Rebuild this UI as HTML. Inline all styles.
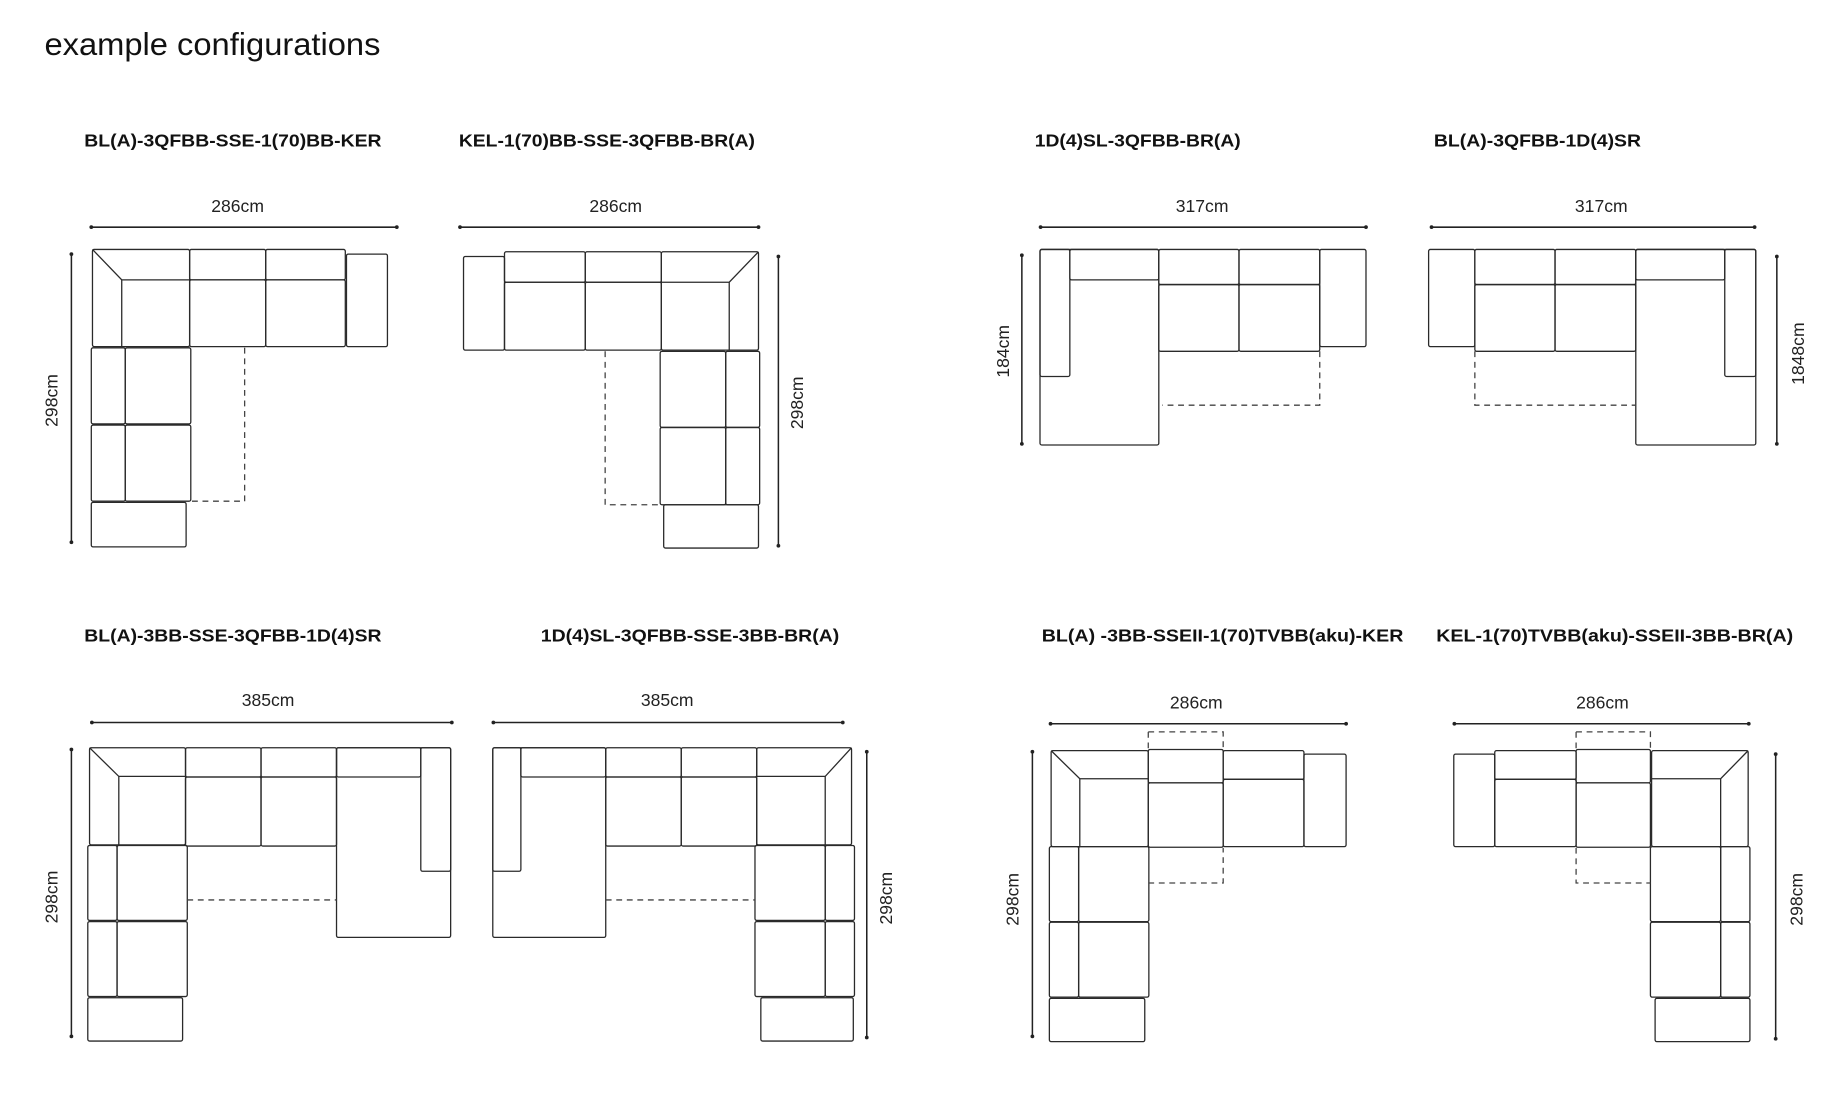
<!DOCTYPE html>
<html><head><meta charset="utf-8"><style>
html,body{margin:0;padding:0;background:#fff;}
svg{display:block;}
.s{fill:none;stroke:#2a2a2a;stroke-width:1.1;}
.d{fill:none;stroke:#444;stroke-width:1.1;stroke-dasharray:5,4;}
.t{font-family:"Liberation Sans",sans-serif;font-weight:bold;font-size:15px;fill:#111;}
.m{font-family:"Liberation Sans",sans-serif;font-size:15px;fill:#222;}
.dl{stroke:#222;stroke-width:1.3;}
</style></head><body>
<svg width="1826" height="1116" viewBox="0 0 1560 953" preserveAspectRatio="none" xmlns="http://www.w3.org/2000/svg">
<rect width="1560" height="953" fill="#fff"/>
<text x="38" y="47" font-family="Liberation Sans, sans-serif" font-size="27" fill="#111" textLength="287" lengthAdjust="spacingAndGlyphs">example configurations</text>

<!-- titles -->
<text class="t" x="72" y="125" textLength="254" lengthAdjust="spacingAndGlyphs">BL(A)-3QFBB-SSE-1(70)BB-KER</text>
<text class="t" x="392" y="125" textLength="253" lengthAdjust="spacingAndGlyphs">KEL-1(70)BB-SSE-3QFBB-BR(A)</text>
<text class="t" x="884" y="125" textLength="176" lengthAdjust="spacingAndGlyphs">1D(4)SL-3QFBB-BR(A)</text>
<text class="t" x="1225" y="125" textLength="177" lengthAdjust="spacingAndGlyphs">BL(A)-3QFBB-1D(4)SR</text>
<text class="t" x="72" y="548" textLength="254" lengthAdjust="spacingAndGlyphs">BL(A)-3BB-SSE-3QFBB-1D(4)SR</text>
<text class="t" x="462" y="548" textLength="255" lengthAdjust="spacingAndGlyphs">1D(4)SL-3QFBB-SSE-3BB-BR(A)</text>
<text class="t" x="890" y="548" textLength="309" lengthAdjust="spacingAndGlyphs">BL(A) -3BB-SSEII-1(70)TVBB(aku)-KER</text>
<text class="t" x="1227" y="548" textLength="305" lengthAdjust="spacingAndGlyphs">KEL-1(70)TVBB(aku)-SSEII-3BB-BR(A)</text>

<!-- horizontal dims -->
<g class="m" text-anchor="middle">
<text x="203" y="181">286cm</text>
<text x="526" y="181">286cm</text>
<text x="1027" y="181">317cm</text>
<text x="1368" y="181">317cm</text>
<text x="229" y="603">385cm</text>
<text x="570" y="603">385cm</text>
<text x="1022" y="605">286cm</text>
<text x="1369" y="605">286cm</text>
</g>
<g class="dl">
<line x1="78" y1="194" x2="339" y2="194"/>
<line x1="393" y1="194" x2="648" y2="194"/>
<line x1="889" y1="194" x2="1167" y2="194"/>
<line x1="1223" y1="194" x2="1499" y2="194"/>
<line x1="78.5" y1="617" x2="386" y2="617"/>
<line x1="421.5" y1="617" x2="720" y2="617"/>
<line x1="897.5" y1="618" x2="1150" y2="618"/>
<line x1="1242.5" y1="618" x2="1494" y2="618"/>
<line x1="61" y1="217" x2="61" y2="463"/>
<line x1="665" y1="219" x2="665" y2="466"/>
<line x1="873" y1="218" x2="873" y2="379"/>
<line x1="1518" y1="219" x2="1518" y2="379"/>
<line x1="61" y1="640" x2="61" y2="885"/>
<line x1="740.5" y1="642" x2="740.5" y2="886"/>
<line x1="882" y1="642" x2="882" y2="885"/>
<line x1="1517" y1="644" x2="1517" y2="887"/>
</g>
<g fill="#222">
<circle cx="78" cy="194" r="1.6"/><circle cx="339" cy="194" r="1.6"/>
<circle cx="393" cy="194" r="1.6"/><circle cx="648" cy="194" r="1.6"/>
<circle cx="889" cy="194" r="1.6"/><circle cx="1167" cy="194" r="1.6"/>
<circle cx="1223" cy="194" r="1.6"/><circle cx="1499" cy="194" r="1.6"/>
<circle cx="78.5" cy="617" r="1.6"/><circle cx="386" cy="617" r="1.6"/>
<circle cx="421.5" cy="617" r="1.6"/><circle cx="720" cy="617" r="1.6"/>
<circle cx="897.5" cy="618" r="1.6"/><circle cx="1150" cy="618" r="1.6"/>
<circle cx="1242.5" cy="618" r="1.6"/><circle cx="1494" cy="618" r="1.6"/>
<circle cx="61" cy="217" r="1.6"/><circle cx="61" cy="463" r="1.6"/>
<circle cx="665" cy="219" r="1.6"/><circle cx="665" cy="466" r="1.6"/>
<circle cx="873" cy="218" r="1.6"/><circle cx="873" cy="379" r="1.6"/>
<circle cx="1518" cy="219" r="1.6"/><circle cx="1518" cy="379" r="1.6"/>
<circle cx="61" cy="640" r="1.6"/><circle cx="61" cy="885" r="1.6"/>
<circle cx="740.5" cy="642" r="1.6"/><circle cx="740.5" cy="886" r="1.6"/>
<circle cx="882" cy="642" r="1.6"/><circle cx="882" cy="885" r="1.6"/>
<circle cx="1517" cy="644" r="1.6"/><circle cx="1517" cy="887" r="1.6"/>
</g>
<g class="m" text-anchor="middle">
<text transform="translate(49,342) rotate(-90)">298cm</text>
<text transform="translate(686,344) rotate(-90)">298cm</text>
<text transform="translate(862,300) rotate(-90)">184cm</text>
<text transform="translate(1541,302) rotate(-90)">1848cm</text>
<text transform="translate(49,766) rotate(-90)">298cm</text>
<text transform="translate(762,767) rotate(-90)">298cm</text>
<text transform="translate(870,768) rotate(-90)">298cm</text>
<text transform="translate(1540,768) rotate(-90)">298cm</text>
</g>

<g class="s">
<!-- D1 -->
<rect x="79" y="213" width="83" height="83" rx="1.5"/>
<path d="M79,213 L104,239 H162 M104,239 V296"/>
<rect x="162" y="213" width="65" height="26" rx="1.5"/><rect x="162" y="239" width="65" height="57" rx="1.5"/>
<rect x="227" y="213" width="68" height="26" rx="1.5"/><rect x="227" y="239" width="68" height="57" rx="1.5"/>
<rect x="296" y="217" width="35" height="79" rx="1.5"/>
<rect x="78" y="297" width="29" height="65" rx="1.5"/><rect x="107" y="297" width="56" height="65" rx="1.5"/>
<rect x="78" y="363" width="29" height="65" rx="1.5"/><rect x="107" y="363" width="56" height="65" rx="1.5"/>
<rect x="78" y="429" width="81" height="38" rx="1.5"/>
<!-- D2 -->
<rect x="396" y="219" width="35" height="80" rx="1.5"/>
<rect x="431" y="215" width="69" height="26" rx="1.5"/><rect x="431" y="241" width="69" height="58" rx="1.5"/>
<rect x="500" y="215" width="65" height="26" rx="1.5"/><rect x="500" y="241" width="65" height="58" rx="1.5"/>
<rect x="565" y="215" width="83" height="84" rx="1.5"/>
<path d="M648,215 L623,241 H565 M623,241 V299"/>
<rect x="564" y="300" width="56" height="65" rx="1.5"/><rect x="620" y="300" width="29" height="65" rx="1.5"/>
<rect x="564" y="365" width="56" height="66" rx="1.5"/><rect x="620" y="365" width="29" height="66" rx="1.5"/>
<rect x="567" y="431" width="81" height="37" rx="1.5"/>
<!-- D3 -->
<rect x="888.5" y="213" width="101.5" height="167" rx="1.5"/>
<rect x="888.5" y="213" width="25.5" height="108.5" rx="1.5"/>
<rect x="914" y="213" width="76" height="26" rx="1.5"/>
<rect x="990" y="213" width="68.5" height="30" rx="1.5"/><rect x="990" y="243" width="68.5" height="57" rx="1.5"/>
<rect x="1058.5" y="213" width="69" height="30" rx="1.5"/><rect x="1058.5" y="243" width="69" height="57" rx="1.5"/>
<rect x="1127.5" y="213" width="39.5" height="83" rx="1.5"/>
<!-- D4 -->
<rect x="1220.5" y="213" width="39.5" height="83" rx="1.5"/>
<rect x="1260" y="213" width="68.5" height="30" rx="1.5"/><rect x="1260" y="243" width="68.5" height="57" rx="1.5"/>
<rect x="1328.5" y="213" width="69" height="30" rx="1.5"/><rect x="1328.5" y="243" width="69" height="57" rx="1.5"/>
<rect x="1397.5" y="213" width="102.5" height="167" rx="1.5"/>
<rect x="1397.5" y="213" width="76" height="26" rx="1.5"/>
<rect x="1473.5" y="213" width="26.5" height="108.5" rx="1.5"/>
<!-- D5 -->
<rect x="76.5" y="638.5" width="82" height="83" rx="1.5"/>
<path d="M76.5,638.5 L101.5,663 H158.5 M101.5,663 V721.5"/>
<rect x="158.5" y="638.5" width="64.5" height="25" rx="1.5"/><rect x="158.5" y="663.5" width="64.5" height="59" rx="1.5"/>
<rect x="223" y="638.5" width="64.5" height="25" rx="1.5"/><rect x="223" y="663.5" width="64.5" height="59" rx="1.5"/>
<rect x="287.5" y="638.5" width="97.5" height="162" rx="1.5"/>
<rect x="287.5" y="638.5" width="72" height="25" rx="1.5"/>
<rect x="359.5" y="638.5" width="25.5" height="105.5" rx="1.5"/>
<rect x="75" y="722" width="25" height="64" rx="1.5"/><rect x="100" y="722" width="60" height="64" rx="1.5"/>
<rect x="75" y="787" width="25" height="64" rx="1.5"/><rect x="100" y="787" width="60" height="64" rx="1.5"/>
<rect x="75" y="852" width="81" height="37" rx="1.5"/>
<!-- D6 -->
<rect x="421" y="638.5" width="96.5" height="162" rx="1.5"/>
<rect x="421" y="638.5" width="24" height="105.5" rx="1.5"/>
<rect x="445" y="638.5" width="72.5" height="25" rx="1.5"/>
<rect x="517.5" y="638.5" width="64.5" height="25" rx="1.5"/><rect x="517.5" y="663.5" width="64.5" height="59" rx="1.5"/>
<rect x="582" y="638.5" width="64.5" height="25" rx="1.5"/><rect x="582" y="663.5" width="64.5" height="59" rx="1.5"/>
<rect x="646.5" y="638.5" width="81" height="83" rx="1.5"/>
<path d="M727.5,638.5 L705,663 H646.5 M705,663 V721.5"/>
<rect x="645" y="722" width="60" height="64" rx="1.5"/><rect x="705" y="722" width="25" height="64" rx="1.5"/>
<rect x="645" y="787" width="60" height="64" rx="1.5"/><rect x="705" y="787" width="25" height="64" rx="1.5"/>
<rect x="650" y="852" width="79" height="37" rx="1.5"/>
<!-- D7 -->
<rect x="898" y="641" width="83" height="82" rx="1.5"/>
<path d="M898,641 L922.5,665 H981 M922.5,665 V723"/>
<rect x="981" y="640" width="64" height="28.5" rx="1.5"/><rect x="981" y="668.5" width="64" height="55" rx="1.5"/>
<rect x="1045" y="641" width="69" height="24.5" rx="1.5"/><rect x="1045" y="665.5" width="69" height="57.5" rx="1.5"/>
<rect x="1114" y="644" width="36" height="79" rx="1.5"/>
<rect x="896.5" y="723" width="25" height="64" rx="1.5"/><rect x="921.5" y="723" width="60" height="64" rx="1.5"/>
<rect x="896.5" y="787.5" width="25" height="64" rx="1.5"/><rect x="921.5" y="787.5" width="60" height="64" rx="1.5"/>
<rect x="896.5" y="852.5" width="81.5" height="37" rx="1.5"/>
<!-- D8 -->
<rect x="1242" y="644" width="35" height="79" rx="1.5"/>
<rect x="1277" y="641" width="69.5" height="24.5" rx="1.5"/><rect x="1277" y="665.5" width="69.5" height="57.5" rx="1.5"/>
<rect x="1346.5" y="640" width="63.5" height="28.5" rx="1.5"/><rect x="1346.5" y="668.5" width="63.5" height="55" rx="1.5"/>
<rect x="1411" y="641" width="82.5" height="82" rx="1.5"/>
<path d="M1493.5,641 L1470,665 H1411 M1470,665 V723"/>
<rect x="1410" y="723" width="60" height="64" rx="1.5"/><rect x="1470" y="723" width="25" height="64" rx="1.5"/>
<rect x="1410" y="787.5" width="60" height="64" rx="1.5"/><rect x="1470" y="787.5" width="25" height="64" rx="1.5"/>
<rect x="1414" y="852.5" width="81" height="37" rx="1.5"/>
</g>

<g class="d">
<path d="M209,297 V428 H163"/>
<path d="M517,300 V431 H564"/>
<path d="M1127.5,300 V346 H993"/>
<path d="M1260,300 V346 H1397"/>
<path d="M160,768.5 H287.5"/>
<path d="M517.5,768.5 H645"/>
<path d="M981,625 H1045 V640 M981,625 V640"/>
<path d="M981,754 H1045 V724"/>
<path d="M1346.5,625 H1410 V640 M1346.5,625 V640"/>
<path d="M1346.5,724 V754 H1410"/>
</g>
</svg>
</body></html>
